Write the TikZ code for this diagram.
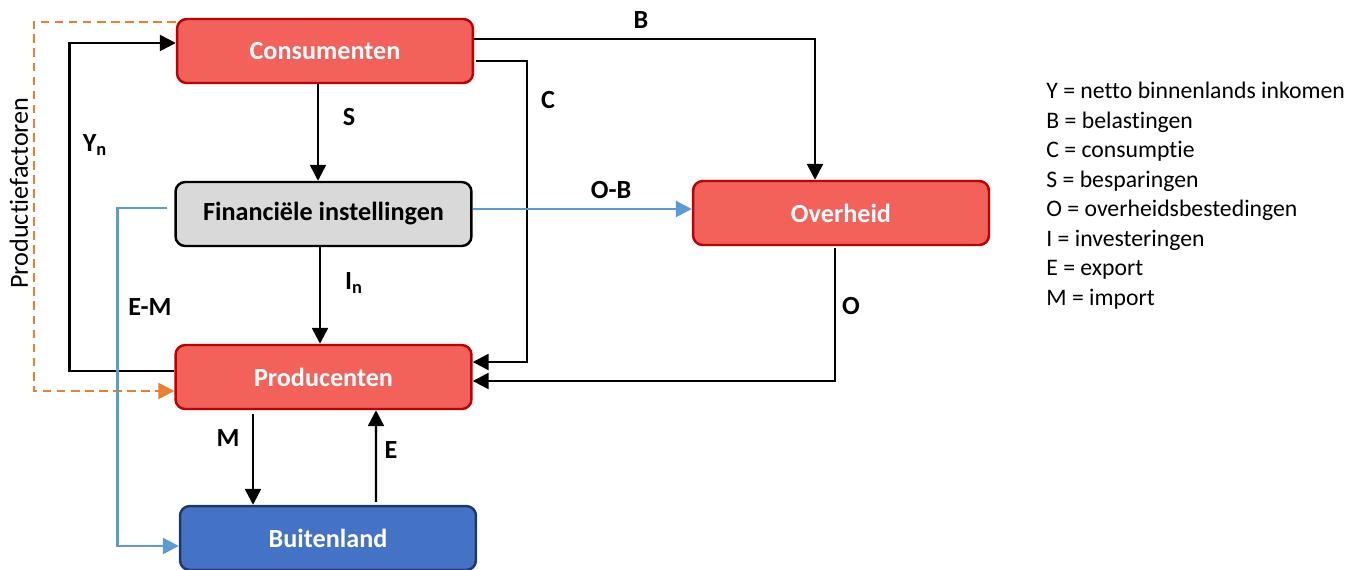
\documentclass[tikz,border=0pt]{standalone}
\usepackage{fontspec}
\setmainfont{Carlito}[RawFeature={-liga;-clig;-calt;-dlig}]
\usetikzlibrary{arrows.meta,calc}
\definecolor{boxred}{HTML}{F2615A}
\definecolor{edgered}{HTML}{C00000}
\definecolor{boxblue}{HTML}{4472C4}
\definecolor{edgeblue}{HTML}{203864}
\definecolor{boxgray}{HTML}{D9D9D9}
\definecolor{flowblue}{HTML}{5B9BD5}
\definecolor{floworange}{HTML}{ED7D31}
\tikzset{
	sector/.style={rounded corners=5.5pt, line width=1.4pt, minimum width=5.92cm, minimum height=1.28cm, inner sep=0pt, font=\fontsize{14.9}{18}\selectfont\bfseries},
	redsector/.style={sector, fill=boxred, draw=edgered, text=white},
	flow/.style={line width=1.4pt, -{Triangle[length=9pt,width=9pt]}},
	flowlabel/.style={inner sep=0pt, font=\fontsize{14.9}{18}\selectfont\bfseries},
	legend/.style={inner sep=0pt, anchor=base west, font=\fontsize{13.5}{16}\selectfont},
}

\begin{document}
\begin{tikzpicture}[x=0.02cm, y=-0.02cm]
		%%%%% START %%%%%
		\useasboundingbox (0,0) rectangle (1351,569);
		
		\node[redsector] (cons) at (325,51) {Consumenten};
		\node[sector, fill=boxgray, draw=black] (fin) at (323.5,214) {Financiële instellingen};
		\node[redsector] (prod) at (323.5,377) {Producenten};
		\node[redsector] (overheid) at (841,213) {Overheid};
		\node[sector, fill=boxblue, draw=edgeblue, text=white] (buit) at (328,538) {Buitenland};
		
		% productiefactoren
		\draw[flow, floworange, dash pattern=on 5pt off 3pt] ($(cons.north west)+(0,4)$) -- ++(-142,0) |- ($(prod.west)+(0,14)$);
		\node[rotate=90, inner sep=0pt, font=\fontsize{14.9}{18}\selectfont] (pf) at (19,193) {Productiefactoren};
		
		% inkomen
		\draw[flow] ($(prod.west)+(0,-6)$) -- ++(-105,0) |- ($(cons.west)+(0,-8)$);
		\node[flowlabel] (ly) at (95,145) {Y\textsubscript{n}};
		
		\draw[flow] ($(cons.south)+(-7,0)$) -- ($(fin.north)+(-5.5,0)$);
		\node[flowlabel] (ls) at (349,117) {S};
		
		\draw[flow] ($(fin.south)+(-3.5,0)$) -- ($(prod.north)+(-3.5,0)$);
		\node[flowlabel] (li) at (354,283) {I\textsubscript{n}};
		
		\draw[flow] ($(cons.east)+(0,-12)$) -| ($(overheid.north)+(-26,0)$);
		\node[flowlabel] (lb) at (641,20) {B};
		
		\draw[flow] ($(cons.east)+(2,10)$) -- ++(51,0) |- ($(prod.east)+(0,-15)$);
		\node[flowlabel] (lc) at (548,100) {C};
		
		\draw[flow, flowblue] ($(fin.east)+(0,-5)$) -- ($(overheid.west)+(0,-4)$);
		\node[flowlabel] (lob) at (611,190) {O-B};
		
		\draw[flow] ($(overheid.south)+(-6,2)$) |- ($(prod.east)+(0,4)$);
		\node[flowlabel] (lo) at (851,306) {O};
		
		\draw[flow, flowblue] ($(fin.west)+(-7,-6)$) -- ++(-50,0) |- ($(buit.west)+(0,8)$);
		\node[flowlabel] (lem) at (150,307) {E-M};
		
		\draw[flow] ($(prod.south)+(-70.5,4)$) -- ($(buit.north)+(-75,0)$);
		\node[flowlabel] (lm) at (228,438) {M};
		
		\draw[flow] ($(buit.north)+(48,-3)$) -- ($(prod.south)+(52.5,0)$);
		\node[flowlabel] (le) at (391,450) {E};
		
		% legenda
		\foreach \txt [count=\i] in {Y = netto binnenlands inkomen, B = belastingen, C = consumptie, S = besparingen, O = overheidsbestedingen, I = investeringen, E = export, M = import}
			\node[legend] (leg\i) at (1046,{69.2+29.5*\i}) {\txt};
		
		%%%%% END %%%%%
\end{tikzpicture}
\end{document}
